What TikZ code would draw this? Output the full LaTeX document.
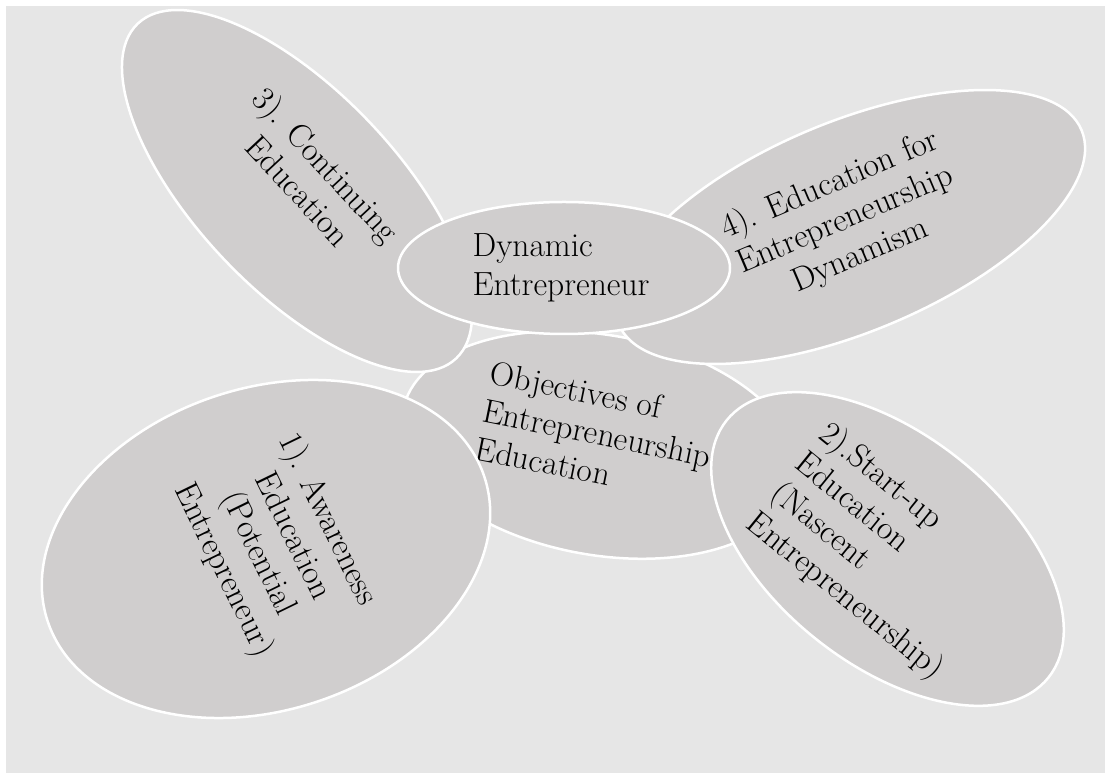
\documentclass[tikz,border=0pt]{standalone}
\usetikzlibrary{shapes.geometric}
\definecolor{bgcol}{HTML}{E6E6E6}
\definecolor{petalcol}{HTML}{D0CECE}
\begin{document}
\begin{tikzpicture}[x=1pt,y=1pt,
  petal/.style={ellipse, draw=white, line width=2.5pt, fill=petalcol, inner sep=0pt},
  txt/.style={inner sep=0pt, font=\fontsize{33.5}{38.5}\selectfont, text=black}]
\useasboundingbox (0,0) rectangle (1105,773);
\fill[white] (0,0) rectangle (1105,773);
\fill[bgcol] (6,0) rectangle (1105,767);
% centre petal and its text (partly covered by the right petal)
\node[petal, minimum width=400pt, minimum height=220pt, rotate=-10] (obj) at (600,328) {};
\node[txt, align=left, rotate=-11.5] (tobj) at (597,340) {Objectives of\\Entrepreneurship\\Education};
% outer petals
\node[petal, minimum width=460pt, minimum height=322pt, rotate=18.25] (aware) at (266,224) {};
\node[petal, minimum width=412pt, minimum height=230pt, rotate=-38.6] (start) at (887.5,224) {};
\node[petal, minimum width=462pt, minimum height=200pt, rotate=-46.4] (cont) at (297,582) {};
\node[petal, minimum width=502pt, minimum height=210pt, rotate=22.7] (dynm) at (850,546) {};
\node[petal, minimum width=332pt, minimum height=132pt] (dyn) at (564,505) {};
% texts
\node[txt, align=left] (tdyn) at (561,505) {Dynamic\\Entrepreneur};
\node[txt, align=center, rotate=-64] (taware) at (275,228) {1). Awareness\\Education\\(Potential\\Entrepreneur)};
\node[txt, align=left, rotate=-39] (tstart) at (881,221) {2).Start-up\\Education\\(Nascent\\Entrepreneurship)};
\node[txt, align=center, rotate=-47] (tcont) at (313,596) {3). Continuing\\Education};
\node[txt, align=center, rotate=23] (tdynm) at (845,553) {4). Education for\\Entrepreneurship\\Dynamism};
\end{tikzpicture}
\end{document}
